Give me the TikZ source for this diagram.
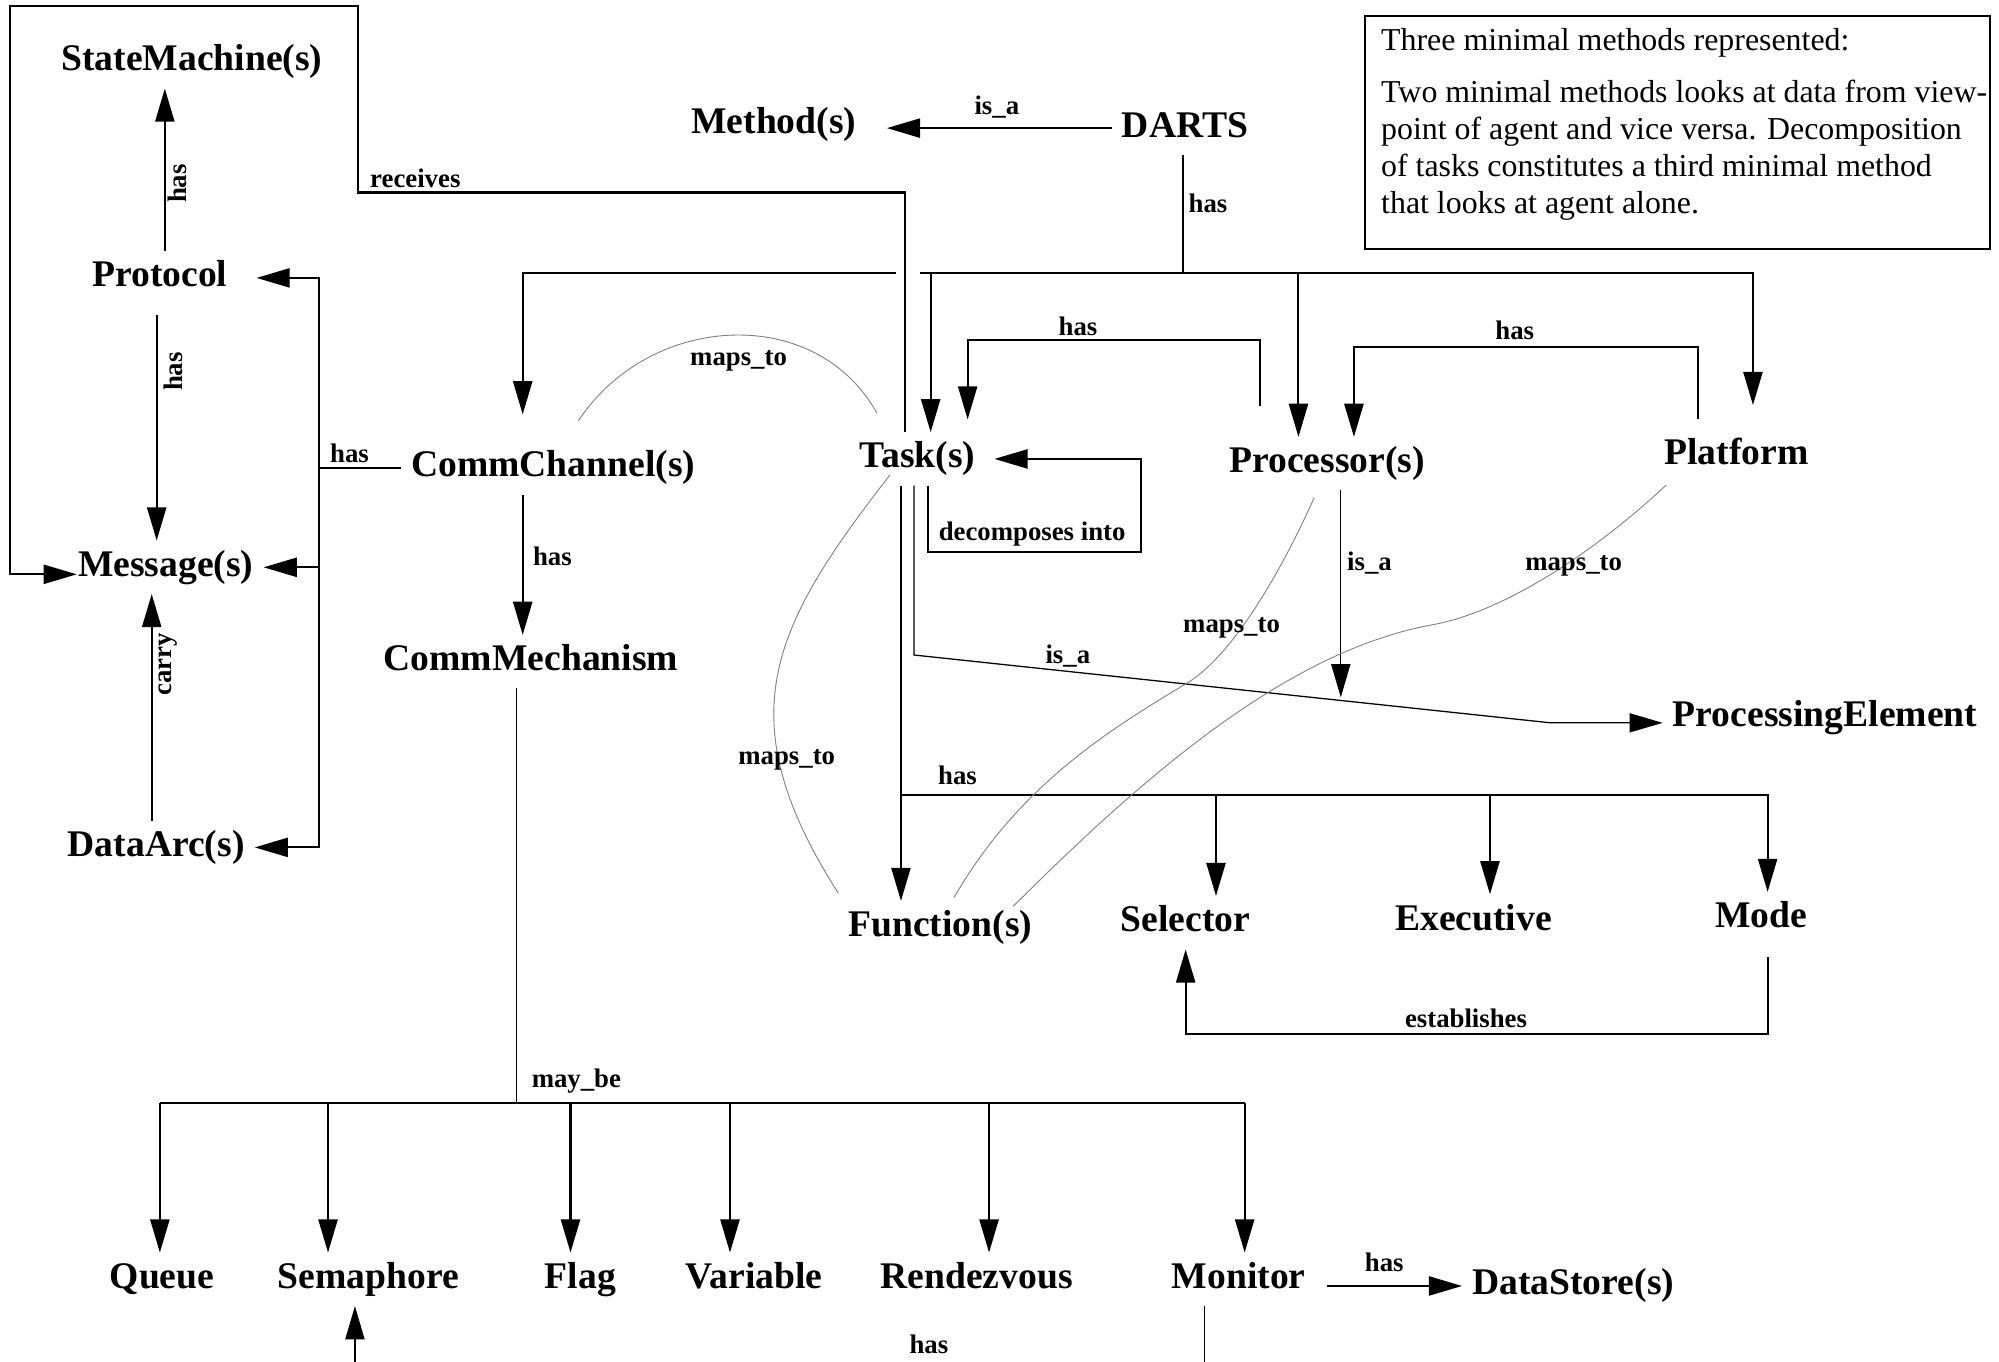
\documentclass[tikz,border=0pt]{standalone}
\usepackage{fontspec}
\setmainfont{Liberation Serif}
\usetikzlibrary{arrows.meta,calc}

\tikzset{
  conn/.style={line width=0.8pt},
  thinconn/.style={line width=0.5pt},
  arr/.style={conn,-{Triangle[length=13pt,width=7.5pt]}},
  thinarr/.style={thinconn,-{Triangle[length=13pt,width=7.5pt]}},
  maps/.style={gray,line width=0.35pt},
  lbl/.style={font=\bfseries\fontsize{14.75}{17}\selectfont,inner sep=0pt,outer sep=4pt,
    text height=10pt,text depth=3pt,anchor=base},
  elbl/.style={font=\bfseries\fontsize{10.5}{12}\selectfont,inner sep=0pt,anchor=base west},
  vlbl/.style={font=\bfseries\fontsize{10.5}{12}\selectfont,inner sep=0pt,rotate=90},
  notebox/.style={draw,line width=0.7pt,anchor=north west,inner sep=0pt,
    minimum width=245.2pt,minimum height=91.25pt},
  notetext/.style={font=\fontsize{12.5}{14.5}\selectfont,align=left,inner sep=0pt,anchor=north west}
}

\begin{document}
\begin{tikzpicture}[x=0.5pt,y=-0.5pt]

    % Fix the page size
    \useasboundingbox (0,0) rectangle (1568,1068);

    % Entities
    \node[lbl] (sm) at (150.5,55.5) {StateMachine(s)};
    \node[lbl] (meth) at (607,105) {Method(s)};
    \node[lbl] (darts) at (929.5,107.5) {DARTS};
    \node[lbl] (prot) at (125.3,225) {Protocol};
    \node[lbl] (cc) at (434,374) {CommChannel(s)};
    \node[lbl] (task) at (719.7,367) {Task(s)};
    \node[lbl] (proc) at (1041,370.7) {Processor(s)};
    \node[lbl] (plat) at (1362,364.7) {Platform};
    \node[lbl] (msg) at (130,452) {Message(s)};
    \node[lbl] (cm) at (416.5,526) {CommMechanism};
    \node[lbl] (pe) at (1431.5,570) {ProcessingElement};
    \node[lbl] (da) at (122.5,671.7) {DataArc(s)};
    \node[lbl] (func) at (737.6,734.7) {Function(s)};
    \node[lbl] (sel) at (930,730.8) {Selector};
    \node[lbl] (exec) at (1155.8,729.5) {Executive};
    \node[lbl] (mode) at (1381.5,727.6) {Mode};
    \node[lbl] (queue) at (127.1,1010.5) {Queue};
    \node[lbl] (sema) at (288.9,1010.5) {Semaphore};
    \node[lbl] (flag) at (455.2,1010.5) {Flag};
    \node[lbl] (var) at (591.5,1010.5) {Variable};
    \node[lbl] (rend) at (766.1,1010.5) {Rendezvous};
    \node[lbl] (mon) at (971.6,1010.5) {Monitor};
    \node[lbl] (ds) at (1234,1015.7) {DataStore(s)};

    % Note in the top right corner
    \node[notebox] (note) at (1070,12) {};
    \node[notetext] (notetxt) at ($(note.north west)+(13,10)$) {Three minimal methods represented:\\[6pt]
      Two minimal methods looks at data from view-\\
      point of agent and vice versa. Decomposition\\
      of tasks constitutes a third minimal method\\
      that looks at agent alone.};

    % DARTS is_a Method(s)
    \draw[arr, shorten >=8pt] (darts.west) -- (darts.west -| meth.east);

    % DARTS has ... (bus, with a gap where "receives" crosses)
    \coordinate (bus) at (928,214);
    \coordinate (gapL) at (702.5,214);
    \coordinate (gapR) at (721.6,214);
    \coordinate (busL) at (410,214);
    \coordinate (busR) at (1375,214);
    \coordinate (bT) at (730,214);
    \coordinate (bP) at (1018.5,214);
    \draw[conn] (darts.south -| bus) -- (bus);
    \draw[arr, shorten >=10.5pt] (gapL) -- (busL) -- (busL |- cc.north);
    \draw[arr, shorten >=9.5pt] (gapR) -- (busR) -- (busR |- plat.north);
    \draw[arr] (bT) -- (bT |- task.north);
    \draw[arr] (bP) -- (bP |- proc.north);

    % Task receives Message(s)
    \coordinate (r1) at (710,151);
    \coordinate (r2) at (281,4.5);
    \coordinate (r3) at (7.5,450.5);
    \draw[arr, shorten >=-3.5pt] (task.north -| r1) -- (r1) -| (r2) -- (r2 -| r3) -- (r3) -- (r3 -| msg.west);

    % Processor(s) has Task(s)
    \coordinate (ph1) at (988.5,267);
    \coordinate (ph2) at (759,267);
    \draw[arr, shorten <=12pt, shorten >=5pt] (proc.north -| ph1) -- (ph1) -- (ph2) -- (ph2 |- task.north);

    % Platform has Processor(s)
    \coordinate (qh1) at (1332,272);
    \coordinate (qh2) at (1062,272);
    \draw[arr, shorten <=4pt] (plat.north -| qh1) -- (qh1) -- (qh2) -- (qh2 |- proc.north);

    % Task(s) decomposes into Task(s)
    \coordinate (dc1) at (728,432.7);
    \coordinate (dc2) at (894.7,360);
    \draw[arr, shorten >=3.5pt] (task.south -| dc1) -- (dc1) -| (dc2) -- (task.east);

    % is_a ProcessingElement
    \coordinate (ti1) at (717,513.8);
    \coordinate (ti2) at (1216.5,567);
    \coordinate (isaJ) at (1051.7,547);
    \draw[thinarr] (task.south -| ti1) -- (ti1) -- (ti2) -- (ti2 -| pe.west);
    \draw[thinarr] (proc.south -| isaJ) -- (isaJ);

    % Task(s) has Function(s), Selector, Executive, Mode
    \coordinate (fh) at (706.7,623.6);
    \coordinate (sh) at (953.8,623.6);
    \coordinate (eh) at (1168.7,623.6);
    \coordinate (mh) at (1386.5,623.6);
    \draw[arr] (task.south -| fh) -- (fh |- func.north);
    \draw[arr] (fh) -- (mh) -- (mh |- mode.north);
    \draw[arr] (sh) -- (sh |- sel.north);
    \draw[arr] (eh) -- (eh |- exec.north);

    % Mode establishes Selector
    \coordinate (es) at (1386.5,811.4);
    \draw[arr, shorten <=4.5pt] (mode.south -| es) -- (es) -| (sel.south);

    % CommChannel(s) has Protocol, Message(s), DataArc(s)
    \coordinate (lb) at (250,664.8);
    \draw[conn] (cc.west) -- (lb |- cc.west);
    \draw[arr, shorten >=7.5pt] (lb |- cc.west) |- (prot.east);
    \draw[arr] (lb |- cc.west) |- (da.east);
    \draw[arr] (lb |- msg.east) -- (msg.east);

    % Protocol and DataArc(s)
    \draw[arr] ([xshift=2pt]prot.north) -- ([xshift=2pt]prot.north |- sm.south);
    \draw[arr, shorten <=4pt] ([xshift=-1.2pt]prot.south) -- ([xshift=-1.2pt]prot.south |- msg.north);
    \draw[arr] ([xshift=-1.75pt]da.north) -- ([xshift=-1.75pt]da.north |- msg.south);

    % CommChannel(s) has CommMechanism
    \draw[arr] (cc.south -| busL) -- (busL |- cm.north);

    % CommMechanism may_be ...
    \coordinate (mb) at (405,865.5);
    \coordinate (mbL) at (125.4,865.5);
    \coordinate (mbR) at (976.3,865.5);
    \draw[thinconn] (cm.south -| mb) -- (mb);
    \draw[conn] (mbL) -- (mbR);
    \foreach \n/\x in {queue/125.4, sema/257.3, flag/447.5, var/572.6, rend/775.8, mon/976.3} {
        \coordinate (mb-\n) at (\x,865.5);
        \draw[arr] (mb-\n) -- (mb-\n |- \n.north);
    }

    % Monitor has DataStore(s), and the cut off ends at the bottom
    \coordinate (semIn) at (278.4,1068);
    \coordinate (monOut) at (944.8,1068);
    \draw[thinarr] (semIn) -- (semIn |- sema.south);
    \draw[thinconn] (monOut |- mon.south) -- (monOut);
    \draw[arr, shorten <=4.5pt] (mon.east |- ds.west) -- (ds.west);

    % maps_to curves
    \draw[maps] ($(cc)+(19.7,-37)$) .. controls (510,245) and (640,238) .. ($(task)+(-31.9,-36)$);
    \draw[maps] ($(task)+(-21.7,12.6)$) .. controls (606.2,491) and (568.7,561.4) .. ($(func)+(-80.1,-27.2)$);
    \draw[maps] ($(proc)+(-10.3,26.9)$) .. controls (1010.7,435.6) and (970.8,512) .. (930.8,536)
        .. controls (870.8,572) and (798.9,616.1) .. ($(func)+(10.7,-23.6)$);
    \draw[maps] ($(plat)+(-55,22.7)$) .. controls (1257,427.4) and (1184,479) .. (1124,490)
        .. controls (1014,509.8) and (904.7,601) .. ($(func)+(57.1,-16.7)$);

    % Connector labels
    \node[elbl] at (290,147) {receives};
    \node[elbl] at (764,90) {is\_a};
    \node[elbl] at (932,166.6) {has};
    \node[elbl] at (830,262.8) {has};
    \node[elbl] at (1172.6,266) {has};
    \node[elbl] at (541,286.7) {maps\_to};
    \node[elbl] at (258.6,362.6) {has};
    \node[elbl] at (417.7,443.7) {has};
    \node[elbl] at (736,424) {decomposes into};
    \node[elbl] at (1056.3,447.6) {is\_a};
    \node[elbl] at (1196,447.6) {maps\_to};
    \node[elbl] at (927.7,496) {maps\_to};
    \node[elbl] at (819.7,520.3) {is\_a};
    \node[elbl] at (578.8,600) {maps\_to};
    \node[elbl] at (735.5,615) {has};
    \node[elbl] at (1101.7,805.6) {establishes};
    \node[elbl] at (416.7,852.9) {may\_be};
    \node[elbl] at (1070.2,997.7) {has};
    \node[elbl] at (713,1061.5) {has};
    \node[vlbl] at (139,144) {has};
    \node[vlbl] at (136,291.5) {has};
    \node[vlbl] at (131.5,521) {carry};

\end{tikzpicture}
\end{document}
